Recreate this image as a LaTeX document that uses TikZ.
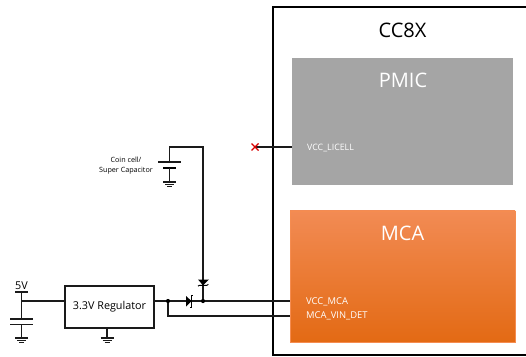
\documentclass[tikz,border=0pt]{standalone}
\usepackage{fontspec}
\setmainfont{Open Sans}
\usetikzlibrary{calc}
\definecolor{pmicgray}{HTML}{A5A5A5}
\definecolor{wiredark}{HTML}{1A1A1A}
\tikzset{
  x=1pt,y=-1pt,
  wire/.style={draw=wiredark,line width=1.1pt},
  thick wire/.style={draw=black,line width=2pt},
  junction/.style={circle,fill=black,inner sep=0pt,minimum size=4.2pt},
  pin label/.style={text=white,anchor=west,inner sep=0pt,font=\fontsize{8.8}{10}\selectfont},
  title/.style={inner sep=0pt,font=\fontsize{20}{22}\selectfont},
  block/.style={inner sep=0pt,anchor=north west},
}
\newcommand{\gnd}[1]{%
  \draw[wire] ($(#1)+(-6.5,0)$) -- ($(#1)+(6.5,0)$);
  \draw[wire] ($(#1)+(-4.5,2.6)$) -- ($(#1)+(4.5,2.6)$);
  \draw[wire] ($(#1)+(-2.5,4.8)$) -- ($(#1)+(2.5,4.8)$);
}
\begin{document}
\begin{tikzpicture}
\useasboundingbox (0,0) rectangle (526,356);
% module outline
\draw[thick wire] (526,6.5) -- (272.5,6.5) -- (272.5,355) -- (526,355);
\node[title] (cc8x) at (402.5,30) {CC8X};
% blocks
\node[block,fill=pmicgray,minimum width=221pt,minimum height=127pt] (pmic) at (292,58) {};
\node[title,text=white] (pmict) at (403,80) {PMIC};
\node[block,draw={rgb,255:red,245;green,140;blue,80},line width=.4pt,minimum width=225pt,minimum height=131pt,
  top color={rgb,255:red,242;green,139;blue,84},middle color={rgb,255:red,245;green,125;blue,40},bottom color={rgb,255:red,227;green,106;blue,20}] (mca) at (290,210.5) {};
\node[title,text=white] (mcat) at (402.5,233.5) {MCA};
\node[pin label] (licell) at (307,147.5) {VCC\_LICELL};
\node[pin label,font=\fontsize{9.4}{10}\selectfont] (vccmca) at (306,302) {VCC\_MCA};
\node[pin label,font=\fontsize{9.4}{10}\selectfont] (vindet) at (306,315.5) {MCA\_VIN\_DET};
% regulator
\node[draw=wiredark,line width=1.1pt,minimum width=89pt,minimum height=42pt,inner sep=0pt,font=\fontsize{10.8}{12}\selectfont] (reg) at (109.5,307) {3.3V Regulator};
% coordinates
\coordinate (vinbar) at (21.5,292);
\coordinate (vintee) at (21.5,301);
\coordinate (capa) at (21.5,319);
\coordinate (capb) at (21.5,324.5);
\coordinate (gndA) at (21.5,338);
\coordinate (gndB) at (107,338);
\coordinate (regb) at (107,328);
\coordinate (pmicpin) at (292,147);
\coordinate (xmark) at (255,147);
\coordinate (mcapin) at (290,301);
\coordinate (detpin) at (290,316);
\coordinate (corner) at (203,147);
\coordinate (cellcorner) at (169.5,147);
\coordinate (cellp) at (169.5,162);
\coordinate (celln) at (169.5,167.5);
\coordinate (gndC) at (169.5,182);
\coordinate (regout) at (154,301);
\coordinate (detb) at (168,316);
\node[junction] (j1) at (168,301) {};
\node[junction] (j2) at (203,301) {};
% 5V input
\node[inner sep=0pt,font=\fontsize{10.8}{12}\selectfont] (five) at (21.5,285.5) {5V};
\draw[wire] ($(vinbar)+(-6.5,0)$) -- ($(vinbar)+(6.5,0)$);
\draw[wire] (vinbar) -- (capa);
\draw[wire] (vintee) -- (reg.west |- vintee);
\draw[wire] ($(capa)+(-11.5,0)$) -- ($(capa)+(11.5,0)$);
\draw[wire] ($(capb)+(-11.5,0)$) -- ($(capb)+(11.5,0)$);
\draw[wire] (capb) -- (gndA);
\gnd{gndA}
\draw[wire] (regb) -- (gndB);
\gnd{gndB}
% output
\draw[wire] (regout) -- (j1) -- (j2) -- (mcapin);
\draw[wire] (j1) -- (detb) -- (detpin);
% battery
\draw[wire] (pmicpin) -- (xmark);
\draw[wire] (cellp) -- (cellcorner) -- (corner) -- (j2);
\draw[wire] ($(cellp)+(-11.5,0)$) -- ($(cellp)+(11.5,0)$);
\draw[draw=black,line width=2pt] ($(celln)+(-6.5,0)$) -- ($(celln)+(6.5,0)$);
\draw[wire] (celln) -- (gndC);
\gnd{gndC}
\node[inner sep=0pt,align=center,anchor=east,font=\fontsize{7.2}{10.4}\selectfont] (cell) at (153,165.5) {Coin cell/\\Super Capacitor};
% schottky diodes
\fill[black] (186,296) -- (191.5,301) -- (186,306.5) -- cycle;
\draw[line width=1pt] (190,307) -- (191.7,307) -- (191.7,295.5) -- (193.2,295.5);
\fill[black] (198,279.5) -- (209,279.5) -- (203,285.3) -- cycle;
\draw[line width=.9pt] (198,286.2) -- (199.3,285.3) -- (207,285.3) -- (208.3,284.2);
% red no-connect mark
\draw[red!85!black,line width=1.3pt] (251.5,143.5) -- (258.5,150.5) (251.5,150.5) -- (258.5,143.5);
\end{tikzpicture}
\end{document}
